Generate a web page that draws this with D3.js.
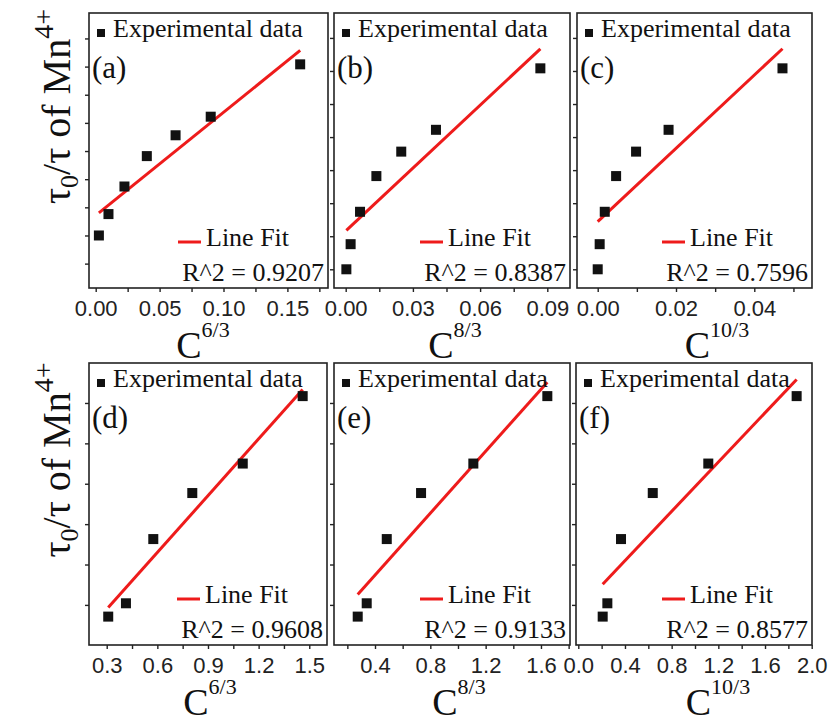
<!DOCTYPE html>
<html>
<head>
<meta charset="utf-8">
<script src="https://cdn.jsdelivr.net/npm/d3@7/dist/d3.min.js"></script>
<style>
    body { margin: 0; background: #ffffff; }
    text.serif { font-family: "Liberation Serif", "Times New Roman", serif; fill: #111; }
    .tick text { font-family: "Liberation Sans", Arial, sans-serif; font-size: 22px; fill: #222; }
    .tick line { stroke: #222; stroke-width: 1.4px; }
</style>
</head>
<body>
<svg id="chart" width="831" height="717"></svg>
<script>
// tau0/tau values, same samples in the three top panels and in the three bottom panels
var yTop    = [1.000, 1.038, 1.087, 1.141, 1.178, 1.211, 1.304];
var yBottom = [0.971, 1.004, 1.163, 1.277, 1.350, 1.517];

// x values
var xA = [0.0025, 0.0100, 0.0225, 0.0400, 0.0625, 0.0900, 0.1600];
var xB = [0.0003, 0.0022, 0.0064, 0.0137, 0.0248, 0.0403, 0.0869];
var xC = [0.0000, 0.0005, 0.0018, 0.0047, 0.0098, 0.0181, 0.0472];
var xD = [0.309, 0.414, 0.576, 0.807, 1.106, 1.461];
var xE = [0.275, 0.340, 0.485, 0.733, 1.111, 1.646];
var xF = [0.209, 0.249, 0.366, 0.638, 1.114, 1.871];

var tags     = ["(a)", "(b)", "(c)", "(d)", "(e)", "(f)"];
var powers   = ["6/3", "8/3", "10/3", "6/3", "8/3", "10/3"];
var r2Values = ["0.9207", "0.8387", "0.7596", "0.9608", "0.9133", "0.8577"];
var xSteps   = [0.05, 0.03, 0.02, 0.3, 0.4, 0.4];
var xDigits  = [2, 2, 2, 1, 1, 1];

// panel boxes and axis ranges
var layout = [
    {x0: 89,  x1: 328, y0: 13,  y1: 288, xd: [-0.00524, 0.18177], yd: [0.9067, 1.3952], ys: 0.05, tx: 203},
    {x0: 334, x1: 570, y0: 13,  y1: 288, xd: [-0.00522, 0.10013], yd: [0.9717, 1.3877], ys: 0.05, tx: 455},
    {x0: 577, x1: 812, y0: 13,  y1: 288, xd: [-0.00529, 0.05474], yd: [0.9717, 1.3877], ys: 0.05, tx: 717},
    {x0: 89,  x1: 327, y0: 363, y1: 645, xd: [0.1951, 1.6051],    yd: [0.9007, 1.5990], ys: 0.1,  tx: 210},
    {x0: 334, x1: 570, y0: 363, y1: 645, xd: [0.1035, 1.8099],    yd: [0.9007, 1.5990], ys: 0.1,  tx: 459},
    {x0: 576, x1: 812, y0: 363, y1: 645, xd: [-0.0197, 2.0026],   yd: [0.9007, 1.5990], ys: 0.1,  tx: 718}
];

var xs = [xA, xB, xC, xD, xE, xF];
var ys = [yTop, yTop, yTop, yBottom, yBottom, yBottom];

var svg = d3.select("#chart");

function stepTicks(domain, step) {
    var k0 = Math.ceil(domain[0] / step - 1e-6),
        k1 = Math.floor(domain[1] / step + 1e-6);
    return d3.range(k0, k1 + 1).map(function(k) { return +(k * step).toFixed(6); });
}

function linFit(px, py) {
    var mx = d3.mean(px), my = d3.mean(py);
    var sxy = d3.sum(px, function(v, i) { return (v - mx) * (py[i] - my); });
    var sxx = d3.sum(px, function(v) { return (v - mx) * (v - mx); });
    var b = sxy / sxx;
    return {slope: b, intercept: my - b * mx};
}

layout.forEach(function(p, i) {
    var x = d3.scaleLinear().domain(p.xd).range([p.x0, p.x1]);
    var y = d3.scaleLinear().domain(p.yd).range([p.y1, p.y0]);
    var g = svg.append("g");

    // x axis: labelled majors, unlabelled minors in between
    var half = stepTicks(p.xd, xSteps[i] / 2);
    var majors = half.filter(function(v) { return Math.abs(v / xSteps[i] - Math.round(v / xSteps[i])) < 1e-4; });
    var minors = half.filter(function(v) { return majors.indexOf(v) < 0; });

    var ax = g.append("g")
        .attr("transform", "translate(0," + p.y1 + ")")
        .call(d3.axisBottom(x).tickValues(majors).tickSize(4).tickPadding(8)
            .tickFormat(d3.format("." + xDigits[i] + "f")));
    var axm = g.append("g")
        .attr("transform", "translate(0," + p.y1 + ")")
        .call(d3.axisBottom(x).tickValues(minors).tickSize(4).tickFormat(""));
    var ay = g.append("g")
        .attr("transform", "translate(" + p.x0 + ",0)")
        .call(d3.axisLeft(y).tickValues(stepTicks(p.yd, p.ys)).tickSize(4).tickFormat(""));
    [ax, axm, ay].forEach(function(a) {
        a.attr("font-size", null).attr("font-family", null);
        a.select(".domain").remove();
    });

    // frame
    g.append("rect")
        .attr("x", p.x0).attr("y", p.y0)
        .attr("width", p.x1 - p.x0).attr("height", p.y1 - p.y0)
        .attr("fill", "none").attr("stroke", "#222").attr("stroke-width", 1.6);

    // fit line
    var fit = linFit(xs[i], ys[i]);
    var ext = d3.extent(xs[i]);
    g.append("line")
        .attr("x1", x(ext[0])).attr("y1", y(fit.intercept + fit.slope * ext[0]))
        .attr("x2", x(ext[1])).attr("y2", y(fit.intercept + fit.slope * ext[1]))
        .attr("stroke", "#ee1b1b").attr("stroke-width", 3);

    // data squares
    g.selectAll("rect.pt")
        .data(xs[i].map(function(v, j) { return [v, ys[i][j]]; }))
        .enter().append("rect")
        .attr("class", "pt")
        .attr("x", function(d) { return x(d[0]) - 5; })
        .attr("y", function(d) { return y(d[1]) - 5; })
        .attr("width", 10).attr("height", 10)
        .attr("fill", "#111");

    // legend
    g.append("rect")
        .attr("x", p.x0 + 8).attr("y", p.y0 + 16)
        .attr("width", 8).attr("height", 8).attr("fill", "#111");
    g.append("text").attr("class", "serif")
        .attr("x", p.x0 + 24).attr("y", p.y0 + 24)
        .attr("font-size", 26).text("Experimental data");
    g.append("text").attr("class", "serif")
        .attr("x", p.x0 + 3).attr("y", p.y0 + 65)
        .attr("font-size", 31).text(tags[i]);
    g.append("line")
        .attr("x1", p.x1 - 150).attr("x2", p.x1 - 127)
        .attr("y1", p.y1 - 46).attr("y2", p.y1 - 46)
        .attr("stroke", "#ee1b1b").attr("stroke-width", 3);
    g.append("text").attr("class", "serif")
        .attr("x", p.x1 - 122).attr("y", p.y1 - 42)
        .attr("font-size", 26).text("Line Fit");
    g.append("text").attr("class", "serif")
        .attr("x", p.x1 - 4).attr("y", p.y1 - 7)
        .attr("text-anchor", "end")
        .attr("font-size", 26).text("R^2 = " + r2Values[i]);

    // x title C^(n/3)
    var t = g.append("text").attr("class", "serif")
        .attr("x", p.tx).attr("y", p.y1 + 70)
        .attr("text-anchor", "middle");
    t.append("tspan").attr("font-size", 38).text("C");
    t.append("tspan").attr("font-size", 22).attr("dy", -21).text(powers[i]);

    // y title on the left column
    if (i % 3 === 0) {
        var cy = (p.y0 + p.y1) / 2 - 44;
        var yt = svg.append("text").attr("class", "serif")
            .attr("transform", "translate(70," + cy + ") rotate(-90)")
            .attr("text-anchor", "middle")
            .attr("font-size", 40);
        yt.append("tspan").text("\u03c4");
        yt.append("tspan").attr("font-size", 26).attr("dy", 8).text("0");
        yt.append("tspan").attr("dy", -8).text("/\u03c4 of Mn");
        yt.append("tspan").attr("font-size", 28).attr("dy", -17).text("4+");
    }
});
</script>
</body>
</html>
